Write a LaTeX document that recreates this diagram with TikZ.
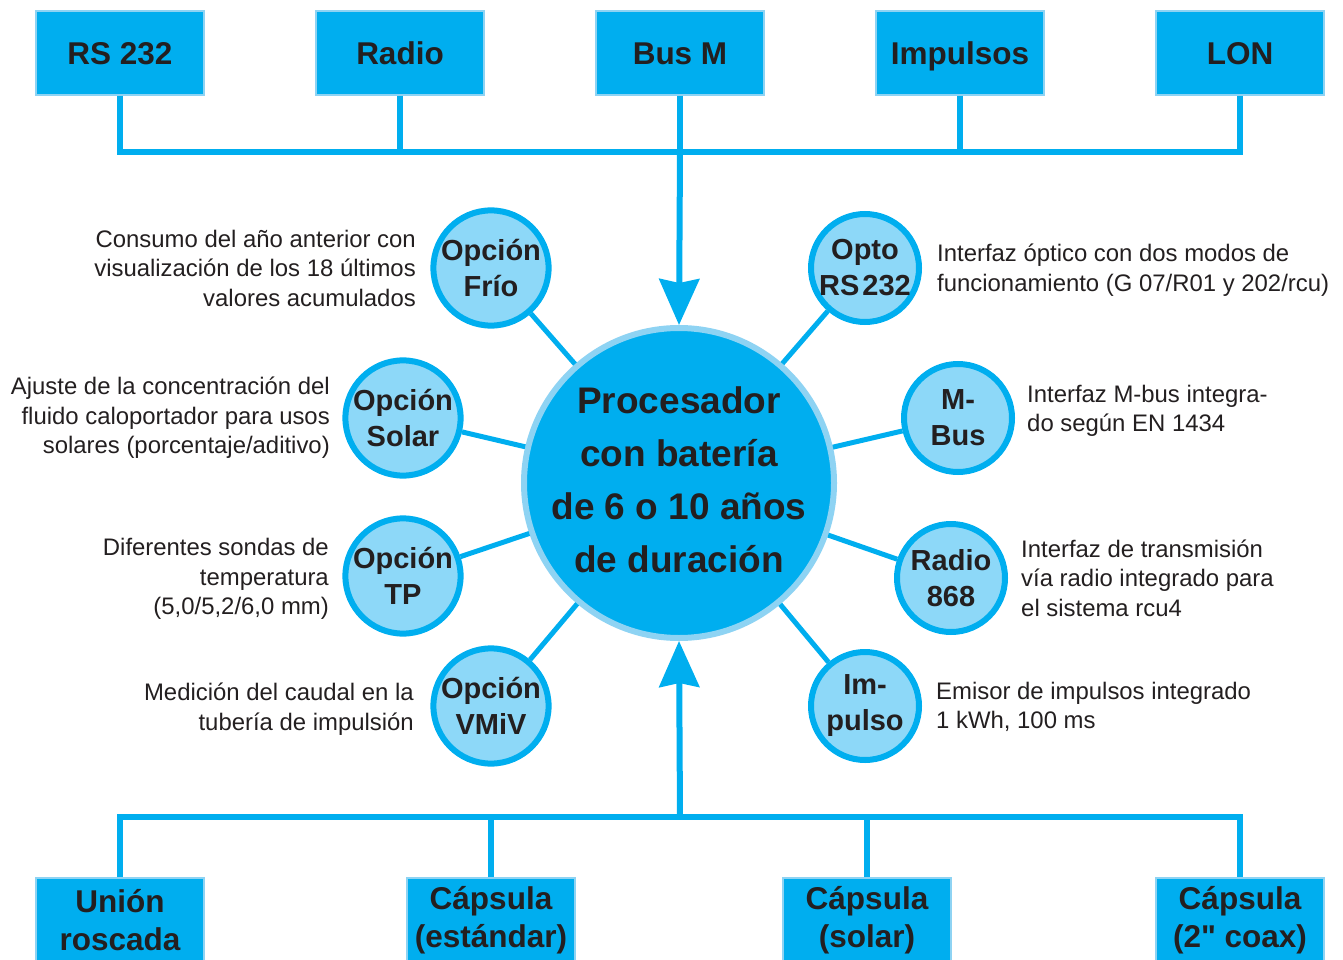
\documentclass[tikz,border=0pt]{standalone}
\usepackage{fontspec}
\setmainfont{Liberation Sans}
\usetikzlibrary{arrows.meta}
\definecolor{cyanblue}{HTML}{00AEEF}
\definecolor{paleblue}{HTML}{8DD8F8}
\definecolor{ringblue}{HTML}{8ED3F3}
\definecolor{ink}{HTML}{231F20}
\tikzset{
  box/.style={draw=ringblue,fill=cyanblue,line width=2pt,minimum width=168pt,minimum height=84pt,
    inner sep=0pt,text=ink,font=\bfseries\fontsize{31.5}{38}\selectfont,align=center},
  topbox/.style={box,text height=27pt,text depth=3pt},
  opt/.style={circle,draw=cyanblue,fill=paleblue,line width=6pt,minimum size=108pt,inner sep=0pt,
    text=ink,font=\bfseries\fontsize{29}{36}\selectfont,align=center},
  notel/.style={anchor=east,align=right,inner sep=0pt,text=ink,font=\fontsize{23.9}{29.5}\selectfont},
  noter/.style={anchor=west,align=left,inner sep=0pt,text=ink,font=\fontsize{23.9}{29.5}\selectfont},
  link/.style={draw=cyanblue,line width=5pt},
  bus/.style={draw=cyanblue,line width=6pt},
  bigtip/.style={-{Stealth[length=46pt,width=40pt,inset=4pt]}},
}
\begin{document}
\begin{tikzpicture}[x=1pt,y=-1pt]
  \useasboundingbox (0,0) rectangle (1343,960);
  % top interfaces
  \foreach \nm/\x/\txt in {rs/120/RS 232,radio/400/Radio,busm/680/Bus M,imp/960/Impulsos,lon/1240/LON}
    \node[topbox] (\nm) at (\x,53) {\txt};
  \coordinate (topbus) at (680,152);
  \draw[bus] (rs.south) |- (topbus) -| (lon.south);
  \foreach \nm in {radio,busm,imp} \draw[bus] (\nm.south) -- (\nm.south |- topbus);
  % processor
  \node[circle,draw=ringblue,fill=cyanblue,line width=6pt,minimum size=310pt,inner sep=0pt] (proc) at (679,483) {};
  \node[text=ink,font=\bfseries\fontsize{37}{53}\selectfont,align=center] (proctxt) at (679,480)
    {Procesador\\con batería\\de 6 o 10 años\\de duración};
  \draw[bus,bigtip] (topbus) -- (proc.north);
  % options
  \node[opt] (frio) at (491,268) {Opción\\Frío};
  \node[opt] (solar) at (403,418) {Opción\\Solar};
  \node[opt] (tp) at (403,576) {Opción\\TP};
  \node[opt] (vmiv) at (491,706) {Opción\\VMiV};
  \node[opt] (opto) at (865,268) {Opto\\RS\kern3pt232};
  \node[opt] (mbus) at (958,418) {M-\\Bus};
  \node[opt] (rad) at (951,578) {Radio\\868};
  \node[opt] (pulso) at (865,706) {Im-\\pulso};
  \foreach \nm in {frio,solar,tp,vmiv,opto,mbus,rad,pulso} \draw[link] (\nm) -- (proc);
  % notes
  \node[notel] (nfrio) at (416,268) {Consumo del año anterior con\\visualización de los 18 últimos\\valores acumulados};
  \node[notel] (nsolar) at (330,418) {Ajuste de la concentración del\\fluido caloportador para usos\\solares (porcentaje/aditivo)};
  \node[notel] (ntp) at (329,579) {Diferentes sondas de\\temperatura\\(5,0/5,2/6,0 mm)};
  \node[notel] (nvmiv) at (414,709) {Medición del caudal en la\\tubería de impulsión};
  \node[noter] (nopto) at (937,270) {Interfaz óptico con dos modos de\\funcionamiento (G 07/R01 y 202/rcu)};
  \node[noter] (nmbus) at (1027,411) {Interfaz M-bus integra-\\do según EN 1434};
  \node[noter] (nrad) at (1021,578) {Interfaz de transmisión\\vía radio integrado para\\el sistema rcu4};
  \node[noter] (npulso) at (936,707) {Emisor de impulsos integrado\\1 kWh, 100 ms};
  % bottom meter bodies
  \foreach \nm/\x/\txt in {union/120/Unión\\roscada,cstd/491/Cápsula\\(estándar),csol/867/Cápsula\\(solar),ccoax/1240/Cápsula\\(2\textquotedbl{} coax)}
    \node[box] (\nm) at (\x,920) {\txt};
  \coordinate (botbus) at (680,817);
  \draw[bus] (union.north) |- (botbus) -| (ccoax.north);
  \foreach \nm in {cstd,csol} \draw[bus] (\nm.north) -- (\nm.north |- botbus);
  \draw[bus,bigtip] (botbus) -- (proc.south);
\end{tikzpicture}
\end{document}
